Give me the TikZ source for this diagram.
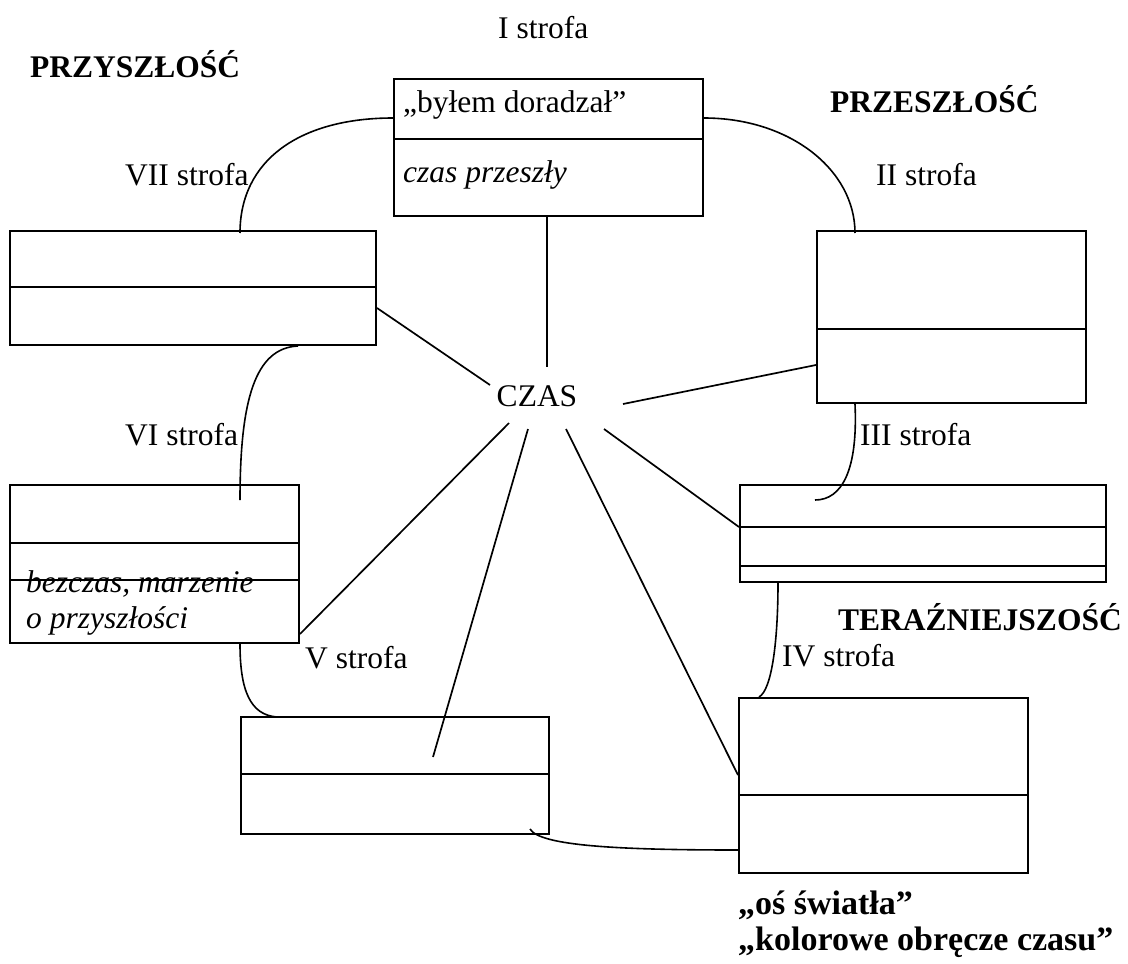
\documentclass[tikz,border=0pt]{standalone}
\usepackage{fontspec}
\setmainfont{Liberation Serif}
\begin{document}
\begin{tikzpicture}[x=1pt,y=-1pt,
  box/.style={draw,line width=2pt,rectangle,anchor=north west,inner sep=0pt},
  sep/.style={line width=2.2pt},
  link/.style={line width=1.7pt},
  arc/.style={line width=1.6pt},
  lbl/.style={anchor=base west,inner sep=0pt,font=\fontsize{31.5}{36}\selectfont},
  blbl/.style={lbl,font=\fontsize{31.5}{36}\selectfont\bfseries},
  ilbl/.style={lbl,font=\fontsize{31.5}{36}\selectfont\itshape},
  big/.style={anchor=base west,inner sep=0pt,font=\fontsize{34}{38}\selectfont\bfseries}]
\useasboundingbox (0,0) rectangle (1128,964);
\fill[white] (0,0) rectangle (1128,964);
% boxes
\node[box,minimum width=309pt,minimum height=137pt] (b1) at (393,78) {};
\node[box,minimum width=269pt,minimum height=172pt] (b2) at (816,230) {};
\node[box,minimum width=366pt,minimum height=97pt] (b3) at (739,484) {};
\node[box,minimum width=289pt,minimum height=175pt] (b4) at (738,697) {};
\node[box,minimum width=308pt,minimum height=117pt] (b5) at (240,716) {};
\node[box,minimum width=289pt,minimum height=158pt] (b6) at (9,484) {};
\node[box,minimum width=366pt,minimum height=114pt] (b7) at (9,230) {};
% dividers
\draw[sep] (b1.west |- 0,139) -- (b1.east |- 0,139);
\draw[sep] (b2.west |- 0,329) -- (b2.east |- 0,329);
\draw[sep] (b3.west |- 0,527) -- (b3.east |- 0,527);
\draw[sep] (b3.west |- 0,566) -- (b3.east |- 0,566);
\draw[sep] (b4.west |- 0,795) -- (b4.east |- 0,795);
\draw[sep] (b5.west |- 0,774) -- (b5.east |- 0,774);
\draw[sep] (b6.west |- 0,543) -- (b6.east |- 0,543);
\draw[sep] (b6.west |- 0,580) -- (b6.east |- 0,580);
\draw[sep] (b7.west |- 0,287) -- (b7.east |- 0,287);
% centre
\node[lbl,anchor=base] (czas) at (537,406) {CZAS};
\coordinate (c1) at (547,367);
\coordinate (c7) at (490,385);
\coordinate (c2) at (623,404);
\coordinate (c3) at (604,429);
\coordinate (c4) at (566,429);
\coordinate (c5) at (528,429);
\coordinate (c6) at (509,423);
\coordinate (e5) at (433,757);
\draw[link] (b1.south -| 547,0) -- (c1);
\draw[link] (b7.east |- 0,308) -- (c7);
\draw[link] (b2.west |- 0,365) -- (c2);
\draw[link] (b3.west |- 0,527) -- (c3);
\draw[link] (b4.west |- 0,775) -- (c4);
\draw[link] (e5) -- (c5);
\draw[link] (b6.east |- 0,634) -- (c6);
% arcs between boxes
\coordinate (a7s) at (240,233);
\coordinate (a2e) at (855,233);
\coordinate (a6e) at (240,500);
\coordinate (a3e) at (815,500);
\coordinate (a5e) at (277,717);
\coordinate (a5b) at (530,829);
\draw[arc] (a7s) .. controls (240,160) and (300,118) .. (b1.west |- 0,118);
\draw[arc] (b1.east |- 0,118) .. controls (790,118) and (855,170) .. (a2e);
\draw[arc] (b7.south -| 298,0) .. controls (255,348) and (240,400) .. (a6e);
\draw[arc] (b2.south -| 855,0) .. controls (858,470) and (842,500) .. (a3e);
\draw[arc] (b6.south -| 240,0) .. controls (240,690) and (250,715) .. (a5e);
\draw[arc] (b3.south -| 778,0) .. controls (778,640) and (772,690) .. (b4.north -| 759,0);
\draw[arc] (a5b) .. controls (540,846) and (620,850) .. (b4.west |- 0,850);
% labels
\node[lbl] (s1) at (498,38) {I strofa};
\node[lbl] (s2) at (876,185) {II strofa};
\node[lbl] (s3) at (860,445) {III strofa};
\node[lbl] (s4) at (782,666) {IV strofa};
\node[lbl] (s5) at (305,668) {V strofa};
\node[lbl] (s6) at (125,445) {VI strofa};
\node[lbl] (s7) at (125,185) {VII strofa};
\node[blbl] (t1) at (30,77) {PRZYSZŁOŚĆ};
\node[blbl] (t2) at (830,112) {PRZESZŁOŚĆ};
\node[blbl] (t3) at (838,630) {TERAŹNIEJSZOŚĆ};
\node[lbl] (q1) at (403,112) {„byłem doradzał”};
\node[ilbl] (q2) at (403,182) {czas przeszły};
\node[ilbl] (q3) at (26,592) {bezczas, marzenie};
\node[ilbl] (q4) at (26,628) {o przyszłości};
\node[big] (q5) at (738,914) {„oś światła”};
\node[big] (q6) at (738,950) {„kolorowe obręcze czasu”};
\end{tikzpicture}
\end{document}
